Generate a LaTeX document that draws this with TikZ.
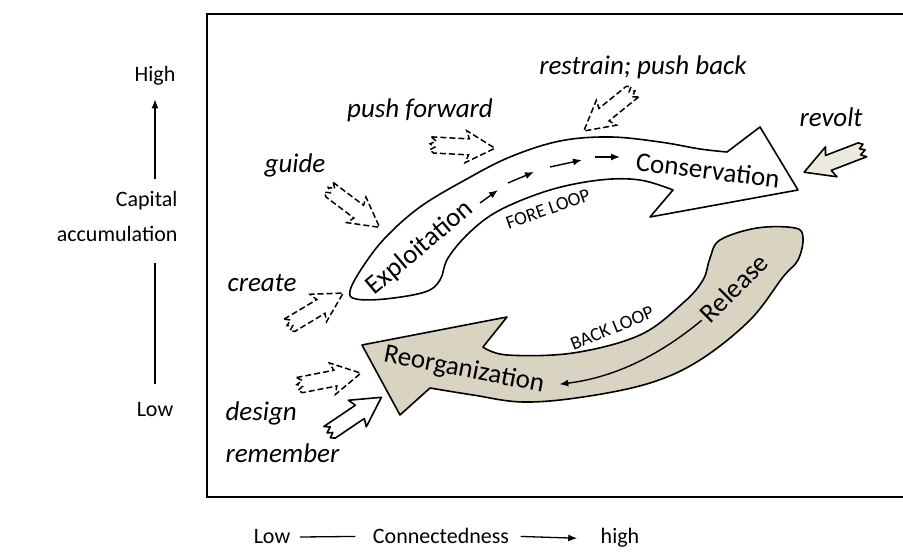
\documentclass[tikz,border=0pt]{standalone}
\usepackage{fontspec}
\setmainfont{Carlito}
\usetikzlibrary{arrows.meta}
\definecolor{sand}{RGB}{217,212,194}
\definecolor{pale}{RGB}{236,233,222}
\begin{document}
\begin{tikzpicture}[x=1pt,y=1pt]

\tikzset{
        every node/.style={font=\fontsize{22}{26}\selectfont},
        >={Latex[length=9pt,width=7pt]},
        axisname/.style={anchor=base},
        force/.style={font=\fontsize{27}{30}\selectfont\itshape},
        phase/.style={font=\fontsize{27}{30}\selectfont},
        loopname/.style={font=\fontsize{19}{21}\selectfont},
        edge/.style={draw,line width=1.6pt,line join=round},
        nudge/.style={draw,line width=1.5pt,dash pattern=on 6pt off 3pt},
        push/.style={draw,line width=1.6pt,line join=round},
        jagarrow/.pic={
                \path[pic actions] (-2,8) -- (36,8) -- (33,16) -- (62,0) -- (33,-16) -- (36,-8)
                        -- (1,-8) -- (-3,-5) -- (2,-2) -- (-3,1) -- (3,4) -- cycle;
        }
}

\useasboundingbox (0,0) rectangle (903,554);

% frame
\draw[line width=2.8pt] (207,57) rectangle (915,540);

% axes
\node[axisname] (high) at (155,472) {High};
\node[anchor=base east] (capital) at (181,347) {Capital};
\node[anchor=base east] (accum) at (181,312) {accumulation};
\node[axisname] (low) at (155,137) {Low};
\draw[->,line width=1.3pt] ([yshift=9pt]capital.north -| high) -- ([yshift=-10pt]high.south);
\draw[line width=1.3pt] ([yshift=-17pt]accum.south -| low) -- ([yshift=15pt]low.north);

\node[axisname] (lowx) at (272,10) {Low};
\node[axisname] (conn) at (441,10) {Connectedness};
\node[axisname] (highx) at (620,10) {high};
\draw[line width=1.3pt] ([xshift=6pt]lowx.east) -- ([xshift=-14pt]conn.west);
\draw[->,line width=1.3pt] ([xshift=8pt]conn.east) -- ([xshift=-20pt]highx.west);

% fore loop
\draw[edge,fill=white] plot[smooth,tension=0.6] coordinates {(727,402) (700,405) (660,412) (610,417)
        (560,413) (510,397) (465,374) (420,347) (385,316) (362,286) (350,263) (356,255) (385,255)
        (425,262) (440,274) (448,296) (470,322) (500,344) (550,364) (600,374) (640,374) (673,364)}
        -- (650,337) -- (798,364) -- (760,427) -- cycle;

% back loop
\draw[edge,fill=sand] (362,209) -- (507,237) -- plot[smooth,tension=0.6] coordinates {(483,207)
        (507,199) (573,201) (640,219) (683,251) (703,274) (710,296) (720,314) (757,326) (795,326)
        (803,316) (798,294) (783,277) (750,234) (700,194) (650,171) (583,157) (523,152) (473,159)
        (430,166)} -- (400,139) -- cycle;

\foreach \xa/\ya/\xb/\yb in {480/351/498/364,508/371/534/382,550/387/582/394,595/397/620/397}
        \draw[->,line width=1.4pt] (\xa,\ya) -- (\xb,\yb);

\node[phase,rotate=40] (expl) at (420,306) {Exploitation};
\node[phase,rotate=-7] (cons) at (708,384) {Conservation};
\node[phase,rotate=45] (rel) at (734,266) {Release};
\node[phase,rotate=-11] (reorg) at (464,184) {Reorganization};
\node[loopname,rotate=19] (fore) at (548,345) {FORE LOOP};
\node[loopname,rotate=22] (back) at (612,226) {BACK LOOP};

\draw[->,line width=1.4pt] (rel.west) .. controls (655,195) and (610,176) .. ([xshift=12pt,yshift=2pt]reorg.east);

% forces
\node[force] (restrain) at (643,487) {restrain; push back};
\node[force] (pushfwd) at (420,444) {push forward};
\node[force] (guide) at (295,389) {guide};
\node[force] (revolt) at (831,437) {revolt};
\node[force] (create) at (262,271) {create};
\node[force,anchor=west] (design) at (222,141) {design};
\node[force,anchor=west] (remember) at (222,101) {remember};

\pic[nudge,rotate=-37] at (330,364) {jagarrow};
\pic[nudge,rotate=-3] at (433,409) {jagarrow};
\pic[nudge,rotate=219] at (632,462) {jagarrow};
\pic[nudge,rotate=31] at (290,229) {jagarrow};
\pic[nudge,rotate=11] at (300,169) {jagarrow};
\pic[push,fill=white,rotate=34] at (330,122) {jagarrow};
\pic[push,fill=pale,rotate=201] at (862,404) {jagarrow};

\end{tikzpicture}
\end{document}
